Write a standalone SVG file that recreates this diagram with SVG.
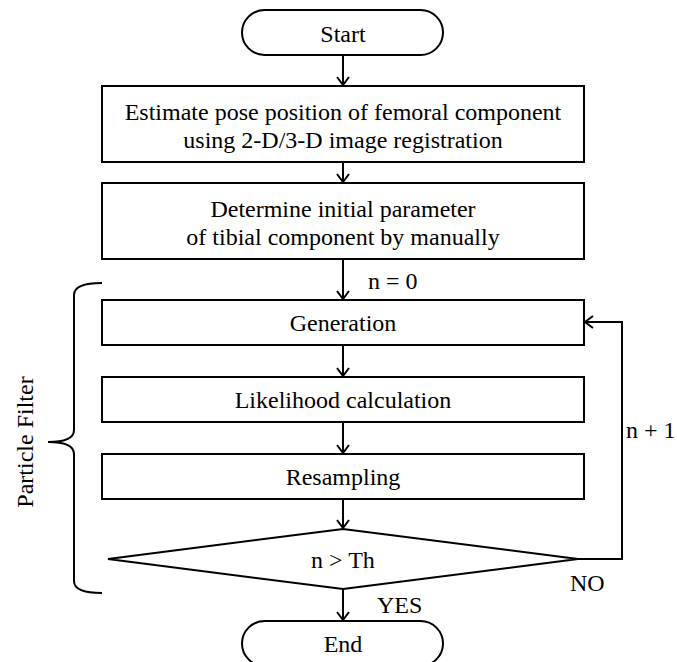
<svg xmlns="http://www.w3.org/2000/svg" width="677" height="662" viewBox="0 0 677 662">
<defs>
<style>
.shape{fill:#fff;stroke:#000;stroke-width:2}
.line{fill:none;stroke:#000;stroke-width:2}
text{font-family:"Liberation Serif","Times New Roman",serif;font-size:24px;fill:#000}
.c{text-anchor:middle}
</style>
<marker id="arr" viewBox="0 0 10 14" refX="9" refY="7" markerWidth="10" markerHeight="14" markerUnits="userSpaceOnUse" orient="auto">
<path d="M1,1 L9,7 L1,13" fill="none" stroke="#000" stroke-width="2"/>
</marker>
</defs>
<rect width="677" height="662" fill="#fff"/>
<g id="connectors">
<line class="line" x1="343" y1="55" x2="343" y2="85" marker-end="url(#arr)"/>
<line class="line" x1="343" y1="162" x2="343" y2="182" marker-end="url(#arr)"/>
<line class="line" x1="343" y1="259" x2="343" y2="299" marker-end="url(#arr)"/>
<line class="line" x1="343" y1="345" x2="343" y2="376" marker-end="url(#arr)"/>
<line class="line" x1="343" y1="422" x2="343" y2="453" marker-end="url(#arr)"/>
<line class="line" x1="343" y1="499" x2="343" y2="528" marker-end="url(#arr)"/>
<line class="line" x1="343" y1="589" x2="343" y2="620" marker-end="url(#arr)"/>
<polyline class="line" points="578,559 622,559 622,322 585,322" marker-end="url(#arr)"/>
<text x="368" y="289">n = 0</text>
<text x="626" y="438">n + 1</text>
<text x="570" y="591">NO</text>
<text x="377" y="613">YES</text>
</g>
<g id="start">
<rect class="shape" x="242" y="10" width="201" height="45" rx="22.5"/>
<text class="c" x="343" y="42">Start</text>
</g>
<g id="estimate">
<rect class="shape" x="102" y="86" width="482" height="76"/>
<text class="c" x="343" y="120">Estimate pose position of femoral component</text>
<text class="c" x="343" y="148">using 2-D/3-D image registration</text>
</g>
<g id="determine">
<rect class="shape" x="102" y="183" width="482" height="76"/>
<text class="c" x="343" y="217">Determine initial parameter</text>
<text class="c" x="343" y="245">of tibial component by manually</text>
</g>
<g id="generation">
<rect class="shape" x="102" y="300" width="482" height="45"/>
<text class="c" x="343" y="331">Generation</text>
</g>
<g id="likelihood">
<rect class="shape" x="102" y="377" width="482" height="45"/>
<text class="c" x="343" y="408">Likelihood calculation</text>
</g>
<g id="resampling">
<rect class="shape" x="102" y="454" width="482" height="45"/>
<text class="c" x="343" y="485">Resampling</text>
</g>
<g id="decision">
<polygon class="shape" points="343,529 578,559 343,589 108,559"/>
<text class="c" x="343" y="568">n &gt; Th</text>
</g>
<g id="end">
<rect class="shape" x="242" y="621" width="201" height="45" rx="22.5"/>
<text class="c" x="343" y="652">End</text>
</g>
<g id="particle-filter">
<path class="line" d="M102,283 Q74,283 74,295 L74,430 Q74,442 48,442 Q74,442 74,454 L74,581 Q74,593 102,593"/>
<text class="c" transform="translate(33,442) rotate(-90)">Particle Filter</text>
</g>
</svg>
